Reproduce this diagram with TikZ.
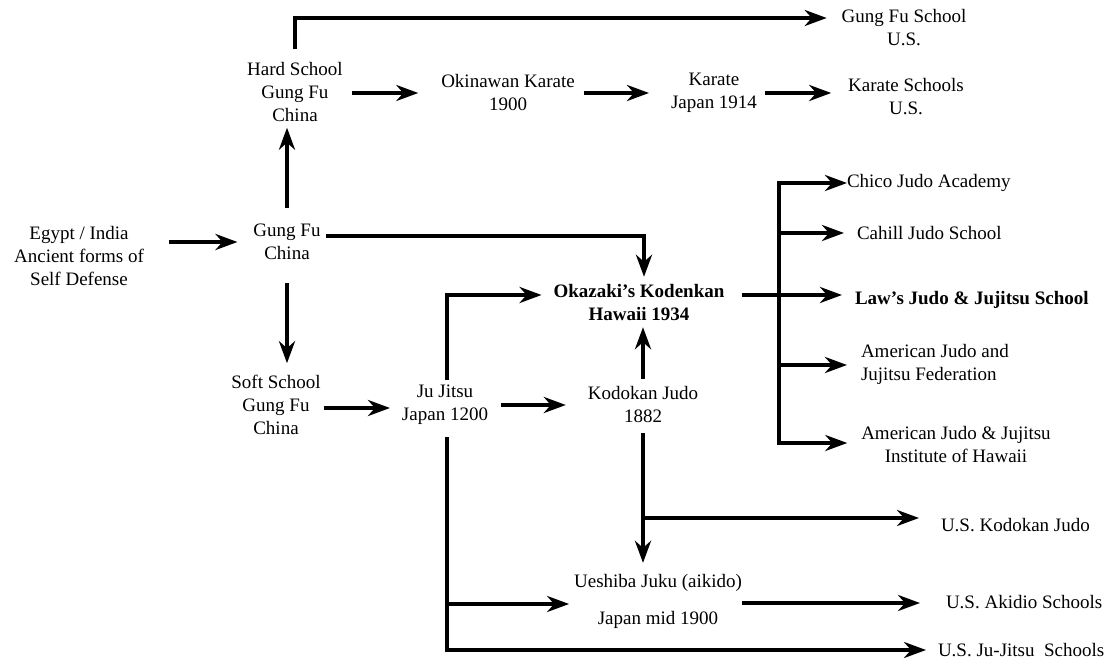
\documentclass[tikz,border=0pt]{standalone}
\usepackage{fontspec}
\setmainfont{Liberation Serif}
\usetikzlibrary{arrows.meta}
\tikzset{
  lbl/.style={inner sep=0pt,outer sep=0pt,align=center,font=\fontsize{19}{23}\selectfont},
  arr/.style={line width=4.5pt,-{Stealth[length=22pt,width=16pt,inset=7pt]}},
  thinarr/.style={arr,line width=3.5pt},
}
\begin{document}
\begin{tikzpicture}[x=1pt,y=-1pt]
\useasboundingbox (0,0) rectangle (1112,660);
%labels
\node[lbl] (egypt) at (79,256) {Egypt / India\\Ancient forms of\\Self Defense};
\node[lbl] (gungfu) at (287,242) {Gung Fu\\China};
\node[lbl] (hard) at (295,92) {Hard School\\Gung Fu\\China};
\node[lbl] (okinawan) at (508,93) {Okinawan Karate\\1900};
\node[lbl] (karate) at (714,93) {Karate\\Japan 1914};
\node[lbl] (karateus) at (906,97) {Karate Schools\\U.S.};
\node[lbl] (gungfuus) at (904,28) {Gung Fu School\\U.S.};
\node[lbl] (soft) at (276,405) {Soft School\\Gung Fu\\China};
\node[lbl] (jujitsu) at (445,405) {Ju Jitsu\\Japan 1200};
\node[lbl] (kodokan) at (643,405) {Kodokan Judo\\1882};
\node[lbl,font=\fontsize{19}{23}\selectfont\bfseries] (okazaki) at (639,303) {Okazaki’s Kodenkan\\Hawaii 1934};
\node[lbl,anchor=west] (chico) at (847,183) {Chico Judo Academy};
\node[lbl,anchor=west] (cahill) at (857,233) {Cahill Judo School};
\node[lbl,anchor=west,font=\fontsize{19}{23}\selectfont\bfseries] (laws) at (855,300) {Law’s Judo \& Jujitsu School};
\node[lbl,anchor=west,align=left] (ajjf) at (861,364) {American Judo and\\Jujitsu Federation};
\node[lbl] (ajjih) at (956,445) {American Judo \& Jujitsu\\Institute of Hawaii};
\node[lbl,anchor=west] (uskodokan) at (941,525) {U.S. Kodokan Judo};
\node[lbl] (ueshiba) at (658,601) {Ueshiba Juku (aikido)\\[14pt]Japan mid 1900};
\node[lbl,anchor=west] (usakido) at (946,602) {U.S. Akidio Schools};
\node[lbl,anchor=west] (usjujitsu) at (938,650) {U.S. Ju-Jitsu\ \ Schools};
%junctions
\coordinate (topbend) at (295,18);
\coordinate (kodobranch) at (644,518);
\coordinate (jujbranch) at (447,604);
\coordinate (bustop) at (779,183);
\coordinate (busmid) at (779,365);
\coordinate (busbot) at (779,443);
%arrows
\draw[arr,shorten <=25pt,shorten >=16pt] (egypt.east |- gungfu.west) -- (gungfu.west);
\draw[arr,shorten <=16pt,shorten >=6pt] (gungfu.north) -- (gungfu.north |- hard.south);
\draw[thinarr,shorten <=13pt,shorten >=15pt] (hard.north) -- (topbend) -- (topbend -| gungfuus.west);
\draw[arr,shorten <=9pt,shorten >=23pt] ([yshift=-1pt]hard.east) -- ([yshift=-1pt]hard.east -| okinawan.west);
\draw[arr,shorten <=9pt,shorten >=22pt] (okinawan.east) -- (okinawan.east -| karate.west);
\draw[arr,shorten <=8pt,shorten >=17pt] (karate.east) -- (karate.east -| karateus.west);
\draw[arr,shorten <=5pt,shorten >=8pt] ([yshift=6pt]gungfu.east) -| ([xshift=5pt]okazaki.north);
\draw[arr,shorten <=23pt,shorten >=12pt] (gungfu.south) -- (gungfu.south |- soft.north);
\draw[arr,shorten <=3pt,shorten >=12pt] ([yshift=-3pt]soft.east) -- ([yshift=-3pt]soft.east -| jujitsu.west);
\draw[arr,shorten <=13pt,shorten >=22pt] (jujitsu.east) -- (jujitsu.east -| kodokan.west);
\draw[arr,shorten <=5pt,shorten >=12pt] ([xshift=2pt]jujitsu.north) |- ([yshift=8pt]okazaki.west);
\draw[arr,shorten <=8pt,shorten >=6pt] (kodokan.north) -- (kodokan.north |- okazaki.south);
\draw[arr,shorten <=10pt,shorten >=11pt] (kodokan.south) -- (kodokan.south |- ueshiba.north);
\draw[thinarr,shorten >=22pt] (kodobranch) -- (kodobranch -| uskodokan.west);
\draw[thinarr,shorten >=26pt] ([yshift=-2pt]ueshiba.east) -- ([yshift=-2pt]ueshiba.east -| usakido.west);
\draw[thinarr,shorten <=12pt,shorten >=12pt] ([xshift=2pt]jujitsu.south) |- (usjujitsu.west);
\draw[thinarr,shorten >=5pt] (jujbranch) -- (jujbranch -| ueshiba.west);
\draw[arr,shorten <=18pt,shorten >=13pt] ([yshift=8pt]okazaki.east) -- ([yshift=8pt]okazaki.east -| laws.west);
\draw[arr] (busbot) -- (bustop) -- (bustop -| chico.west);
\draw[arr,shorten >=13pt] (bustop |- cahill.west) -- (cahill.west);
\draw[arr,shorten >=14pt] (busmid) -- (busmid -| ajjf.west);
\draw[arr,shorten >=14pt] (bustop) -- (busbot) -- (busbot -| ajjih.west);
\end{tikzpicture}
\end{document}
